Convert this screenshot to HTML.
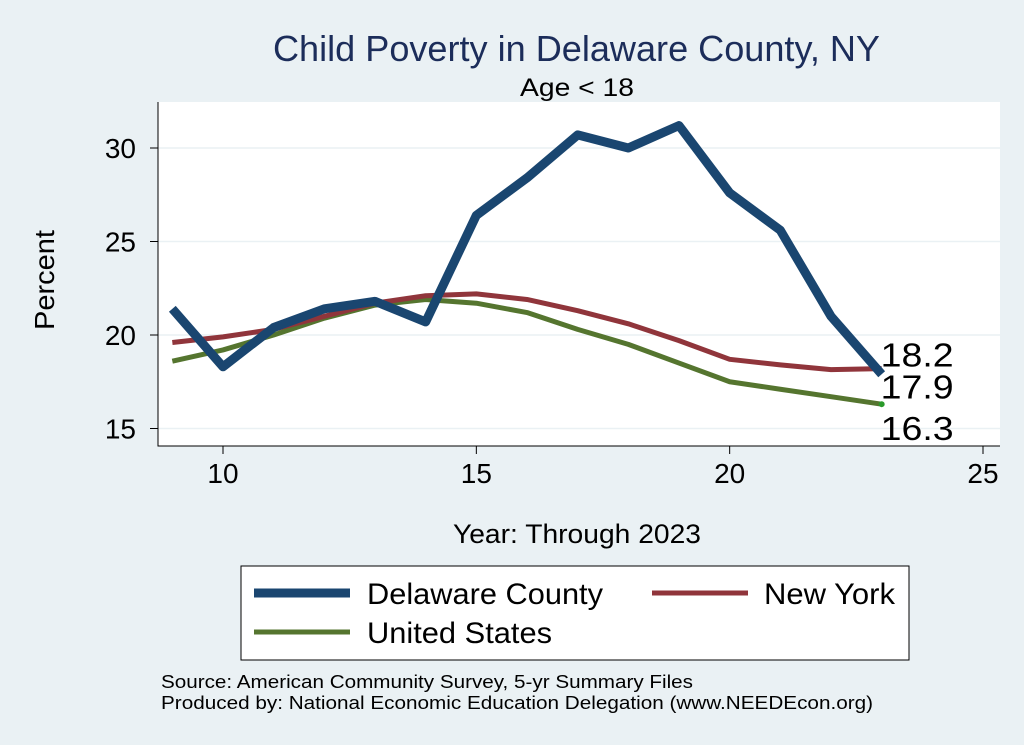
<!DOCTYPE html>
<html><head><meta charset="utf-8"><style>
body{margin:0;background:#eaf1f4;}
svg{display:block;font-family:"Liberation Sans",sans-serif;}
</style></head><body>
<svg width="1024" height="745">
<rect x="0" y="0" width="1024" height="745" fill="#eaf1f4"/>
<text x="273" y="61" font-size="36" textLength="607" lengthAdjust="spacingAndGlyphs" fill="#1c2d5a">Child Poverty in Delaware County, NY</text>
<rect x="158" y="102" width="842" height="344" fill="#fff"/>
<text x="520" y="96" font-size="25" textLength="114" lengthAdjust="spacingAndGlyphs" fill="#000">Age &lt; 18</text>
<g id="grid"></g><g id="axes"></g><g id="series"></g>
<text x="54" y="280" text-anchor="middle" font-size="28" textLength="100" lengthAdjust="spacingAndGlyphs" transform="rotate(-90 54 280)">Percent</text>
<text x="453" y="543" font-size="27" textLength="248" lengthAdjust="spacingAndGlyphs">Year: Through 2023</text>
<g>
<rect x="241" y="566" width="668" height="94" fill="#fff" stroke="#000" stroke-width="1"/>
<g><line x1="254" y1="593" x2="350" y2="593" stroke="#1a4670" stroke-width="9"/><text x="367" y="604" font-size="30" textLength="236" lengthAdjust="spacingAndGlyphs">Delaware County</text></g>
<g><line x1="652" y1="593" x2="748" y2="593" stroke="#90353b" stroke-width="5"/><text x="764" y="604" font-size="30" textLength="131" lengthAdjust="spacingAndGlyphs">New York</text></g>
<g><line x1="254" y1="632" x2="350" y2="632" stroke="#55752f" stroke-width="5"/><text x="367" y="643" font-size="30" textLength="185" lengthAdjust="spacingAndGlyphs">United States</text></g>
</g>
<text x="161" y="688" font-size="18" textLength="532" lengthAdjust="spacingAndGlyphs">Source: American Community Survey, 5-yr Summary Files</text>
<text x="161" y="709" font-size="18" textLength="712" lengthAdjust="spacingAndGlyphs">Produced by: National Economic Education Delegation (www.NEEDEcon.org)</text>
</svg>
<script>
const years=[9,10,11,12,13,14,15,16,17,18,19,20,21,22,23];
const delaware=[21.4,18.3,20.4,21.4,21.8,20.7,26.4,28.4,30.7,30.0,31.2,27.6,25.6,21.0,17.9];
const newYork=[19.6,19.9,20.3,21.0,21.7,22.1,22.2,21.9,21.3,20.6,19.7,18.7,18.4,18.15,18.2];
const unitedStates=[18.6,19.2,20.0,20.9,21.6,21.9,21.7,21.2,20.3,19.5,18.5,17.5,17.1,16.7,16.3];
const xTicks=[10,15,20,25];
const yTicks=[15,20,25,30];
const NS='http://www.w3.org/2000/svg';
const X=v=>223+(v-10)*(983-223)/15;
const Y=v=>335-(v-20)*(335-148)/10;
function mk(t,a,p){const e=document.createElementNS(NS,t);for(const k in a)e.setAttribute(k,a[k]);p.appendChild(e);return e;}
const grid=document.getElementById('grid'),axes=document.getElementById('axes'),ser=document.getElementById('series');
yTicks.forEach(t=>{
 const g=mk('line',{x1:158,x2:1000,y1:Y(t),y2:Y(t),stroke:'#eaf1f4','stroke-width':1.5},grid);
 
 
 const tk=mk('line',{x1:150,x2:158,y1:Y(t),y2:Y(t),stroke:'#000','stroke-width':1},axes);
 
 
 const tx=mk('text',{x:136,y:Y(t)+10,'text-anchor':'end','font-size':28},axes);tx.textContent=t;
 
 
});
xTicks.forEach(t=>{
 const tk=mk('line',{x1:X(t),x2:X(t),y1:446,y2:454,stroke:'#000','stroke-width':1},axes);
 
 
 const tx=mk('text',{x:X(t),y:483,'text-anchor':'middle','font-size':28},axes);tx.textContent=t;
 
 
});
const ax=mk('path',{d:'M158 102V446H1000',fill:'none',stroke:'#000','stroke-width':1},axes);


function line(vals,color,w,name){
 const p=mk('polyline',{points:years.map((y,i)=>X(y)+','+Y(vals[i])).join(' '),fill:'none',stroke:color,'stroke-width':w,'stroke-linejoin':'round'},ser);
 
 
}
line(unitedStates,'#55752f',5,'line-united-states');
line(newYork,'#90353b',5,'line-new-york');
line(delaware,'#1a4670',9,'line-delaware-county');
const last=years.length-1;
const dot=mk('circle',{cx:X(years[last]),cy:Y(unitedStates[last]),r:3,fill:'#2a9a2a'},ser);


[[newYork,-2,'label-new-york'],[delaware,24,'label-delaware'],[unitedStates,36,'label-united-states']].forEach(([v,dy,n])=>{
 const t=mk('text',{x:X(years[last])-1,y:Y(v[last])+dy,'font-size':33,textLength:73,lengthAdjust:'spacingAndGlyphs'},ser);
 t.textContent=v[last].toFixed(1);
 
 
});
</script>
</body></html>
